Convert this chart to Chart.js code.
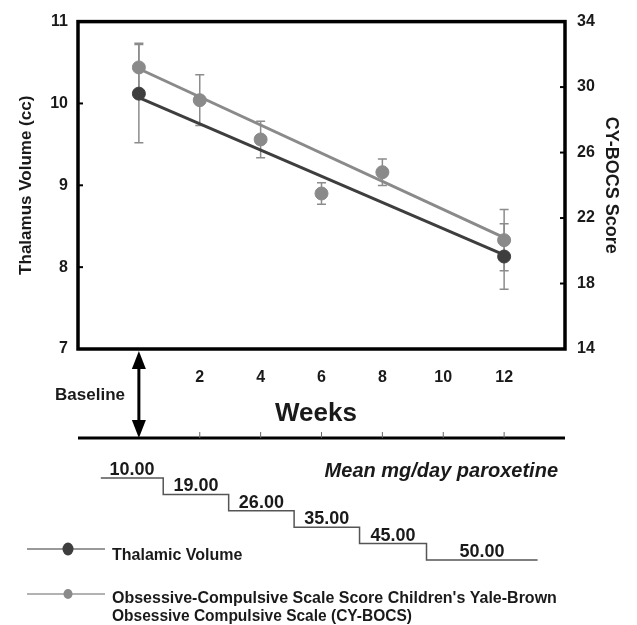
<!DOCTYPE html>
<html>
<head>
<meta charset="utf-8">
<script src="https://cdn.jsdelivr.net/npm/chart.js@4.4.0/dist/chart.umd.min.js"></script>
<style>
  body { margin: 0; background: #fff; }
</style>
</head>
<body>
<canvas id="chart" width="637" height="625"></canvas>
<script>
// values
var bocsWeeks = [0, 2, 4, 6, 8, 12];
var bocsScore = [31.2, 29.2, 26.8, 23.5, 24.8, 20.65];
var bocsErr = [1.47, 1.55, 1.12, 0.65, 0.81, 1.87];
var thalWeeks = [0, 12];
var thalVolume = [10.12, 8.13];
var thalErr = [0.6, 0.4];
var fitWeeks = [0, 12];
var bocsFit = [31.12, 20.81];
var thalFit = [10.07, 8.15];
var weekTicks = [2, 4, 6, 8, 10, 12];
var volumeTicks = [7, 8, 9, 10, 11];
var bocsTicks = [14, 18, 22, 26, 30, 34];
var doseValues = ['10.00', '19.00', '26.00', '35.00', '45.00', '50.00'];
var doseEdges = [-1.25, 0.8, 2.95, 5.1, 7.25, 9.45, 13.1];

var FONT = "'Liberation Sans', Arial, sans-serif";
var INK = '#1a1a1a';
var GRAY = '#8a8a8a';
var DARK = '#3e3e3e';

function pts(xs, ys) {
  return xs.map(function(x, i) { return {x: x, y: ys[i]}; });
}

// error bars under the points
var errorBars = {
  id: 'errorBars',
  beforeDatasetsDraw: function(chart) {
    var ctx = chart.ctx;
    var xs = chart.scales.x;
    ctx.save();
    ctx.strokeStyle = '#8c8c8c';
    ctx.lineWidth = 1.5;
    chart.data.datasets.forEach(function(ds) {
      if (!ds.errors) return;
      var ys = chart.scales[ds.yAxisID];
      ds.data.forEach(function(p, i) {
        var px = xs.getPixelForValue(p.x);
        var top = ys.getPixelForValue(p.y + ds.errors[i]);
        var bot = ys.getPixelForValue(p.y - ds.errors[i]);
        ctx.beginPath();
        ctx.moveTo(px, top); ctx.lineTo(px, bot);
        ctx.moveTo(px - 4.5, top); ctx.lineTo(px + 4.5, top);
        ctx.moveTo(px - 4.5, bot); ctx.lineTo(px + 4.5, bot);
        ctx.stroke();
      });
    });
    ctx.restore();
  }
};

// frame, inner ticks, weeks strip, dose steps and legend
var extras = {
  id: 'extras',
  afterDraw: function(chart) {
    var ctx = chart.ctx;
    var a = chart.chartArea;
    var xs = chart.scales.x;
    var yl = chart.scales.y;
    var yr = chart.scales.y2;
    ctx.save();

    ctx.strokeStyle = '#000';
    ctx.lineWidth = 3.5;
    ctx.strokeRect(a.left, a.top, a.right - a.left, a.bottom - a.top);

    ctx.lineWidth = 2;
    volumeTicks.forEach(function(v) {
      var py = yl.getPixelForValue(v);
      ctx.beginPath(); ctx.moveTo(a.left, py); ctx.lineTo(a.left + 5, py); ctx.stroke();
    });
    bocsTicks.forEach(function(v) {
      var py = yr.getPixelForValue(v);
      ctx.beginPath(); ctx.moveTo(a.right, py); ctx.lineTo(a.right - 5, py); ctx.stroke();
    });

    // baseline arrow
    var bx = xs.getPixelForValue(0);
    var y0 = a.bottom + 2, y1 = 438;
    ctx.lineWidth = 3;
    ctx.beginPath(); ctx.moveTo(bx, y0 + 14); ctx.lineTo(bx, y1 - 14); ctx.stroke();
    ctx.fillStyle = '#000';
    ctx.beginPath(); ctx.moveTo(bx, y0); ctx.lineTo(bx - 7, y0 + 18); ctx.lineTo(bx + 7, y0 + 18); ctx.closePath(); ctx.fill();
    ctx.beginPath(); ctx.moveTo(bx, y1); ctx.lineTo(bx - 7, y1 - 18); ctx.lineTo(bx + 7, y1 - 18); ctx.closePath(); ctx.fill();

    ctx.fillStyle = INK;
    ctx.font = 'bold 17px ' + FONT;
    ctx.textAlign = 'right';
    ctx.textBaseline = 'middle';
    ctx.fillText('Baseline', 125, 395);

    ctx.textAlign = 'center';
    ctx.font = 'bold 16px ' + FONT;
    weekTicks.forEach(function(w) {
      ctx.fillText(String(w), xs.getPixelForValue(w), 378);
    });
    ctx.font = 'bold 26px ' + FONT;
    ctx.fillText('Weeks', 316, 414);

    // bottom rule
    ctx.strokeStyle = '#000';
    ctx.lineWidth = 3;
    ctx.beginPath(); ctx.moveTo(a.left, y1); ctx.lineTo(a.right, y1); ctx.stroke();
    ctx.strokeStyle = '#666';
    ctx.lineWidth = 1;
    weekTicks.forEach(function(w) {
      var px = xs.getPixelForValue(w);
      ctx.beginPath(); ctx.moveTo(px, y1); ctx.lineTo(px, y1 - 6); ctx.stroke();
    });

    // dose steps
    ctx.strokeStyle = '#555';
    ctx.lineWidth = 1.5;
    ctx.textBaseline = 'alphabetic';
    ctx.font = 'bold 18px ' + FONT;
    ctx.fillStyle = INK;
    ctx.beginPath();
    doseValues.forEach(function(d, i) {
      var sy = 478 + 16.4 * i;
      var xa = xs.getPixelForValue(doseEdges[i]);
      var xb = xs.getPixelForValue(doseEdges[i + 1]);
      if (i === 0) ctx.moveTo(xa, sy); else ctx.lineTo(xa, sy);
      ctx.lineTo(xb, sy);
      ctx.fillText(d, (xa + xb) / 2, sy - 3);
    });
    ctx.stroke();

    ctx.font = 'italic bold 20px ' + FONT;
    ctx.textAlign = 'right';
    ctx.fillText('Mean mg/day paroxetine', 558, 477);

    // legend
    ctx.textAlign = 'left';
    ctx.font = 'bold 16px ' + FONT;
    ctx.lineWidth = 1.5;
    ctx.strokeStyle = '#777';
    ctx.beginPath(); ctx.moveTo(27, 549); ctx.lineTo(105, 549); ctx.stroke();
    ctx.fillStyle = DARK;
    ctx.beginPath(); ctx.ellipse(68, 549, 5.5, 6.5, 0, 0, Math.PI * 2); ctx.fill();
    ctx.strokeStyle = '#999';
    ctx.beginPath(); ctx.moveTo(27, 594); ctx.lineTo(105, 594); ctx.stroke();
    ctx.fillStyle = GRAY;
    ctx.beginPath(); ctx.ellipse(68, 594, 4.5, 5, 0, 0, Math.PI * 2); ctx.fill();

    ctx.fillStyle = INK;
    ctx.fillText('Thalamic Volume', 112, 560, 132);
    ctx.fillText("Obsessive-Compulsive Scale Score Children's Yale-Brown", 112, 603, 448);
    ctx.fillText('Obsessive Compulsive Scale (CY-BOCS)', 112, 621, 300);
    ctx.restore();
  }
};

new Chart(document.getElementById('chart').getContext('2d'), {
  data: {
    datasets: [{
      type: 'line',
      data: pts(fitWeeks, bocsFit),
      yAxisID: 'y2',
      borderColor: GRAY,
      borderWidth: 3,
      pointRadius: 0,
      order: 4
    }, {
      type: 'line',
      data: pts(fitWeeks, thalFit),
      yAxisID: 'y',
      borderColor: DARK,
      borderWidth: 3,
      pointRadius: 0,
      order: 3
    }, {
      type: 'scatter',
      label: 'CY-BOCS',
      data: pts(bocsWeeks, bocsScore),
      errors: bocsErr,
      yAxisID: 'y2',
      backgroundColor: GRAY,
      borderColor: GRAY,
      pointRadius: 6.5,
      order: 2
    }, {
      type: 'scatter',
      label: 'Thalamic Volume',
      data: pts(thalWeeks, thalVolume),
      errors: thalErr,
      yAxisID: 'y',
      backgroundColor: DARK,
      borderColor: DARK,
      pointRadius: 6.5,
      order: 1
    }]
  },
  options: {
    responsive: false,
    animation: false,
    devicePixelRatio: 1,
    layout: { padding: { top: 21, bottom: 276, left: 0, right: 0 } },
    plugins: { legend: { display: false }, tooltip: { enabled: false } },
    scales: {
      x: {
        type: 'linear',
        min: -2,
        max: 14,
        display: false
      },
      y: {
        type: 'linear',
        position: 'left',
        min: 7,
        max: 11,
        afterBuildTicks: function(s) { s.ticks = volumeTicks.map(function(v) { return {value: v}; }); },
        afterFit: function(s) { s.width = 78; },
        grid: { display: false, drawTicks: false },
        border: { display: false },
        ticks: { padding: 10, color: INK, font: { family: FONT, size: 16, weight: 'bold' } },
        title: {
          display: true,
          text: 'Thalamus Volume (cc)',
          color: INK,
          padding: { top: 16, bottom: 0 },
          font: { family: FONT, size: 17, weight: 'bold' }
        }
      },
      y2: {
        type: 'linear',
        position: 'right',
        min: 14,
        max: 34,
        afterBuildTicks: function(s) { s.ticks = bocsTicks.map(function(v) { return {value: v}; }); },
        afterFit: function(s) { s.width = 72; },
        grid: { display: false, drawTicks: false },
        border: { display: false },
        ticks: { padding: 12, color: INK, font: { family: FONT, size: 16, weight: 'bold' } },
        title: {
          display: true,
          text: 'CY-BOCS Score',
          color: INK,
          padding: { top: 15, bottom: 0 },
          font: { family: FONT, size: 18, weight: 'bold' }
        }
      }
    }
  },
  plugins: [errorBars, extras]
});
</script>
</body>
</html>
